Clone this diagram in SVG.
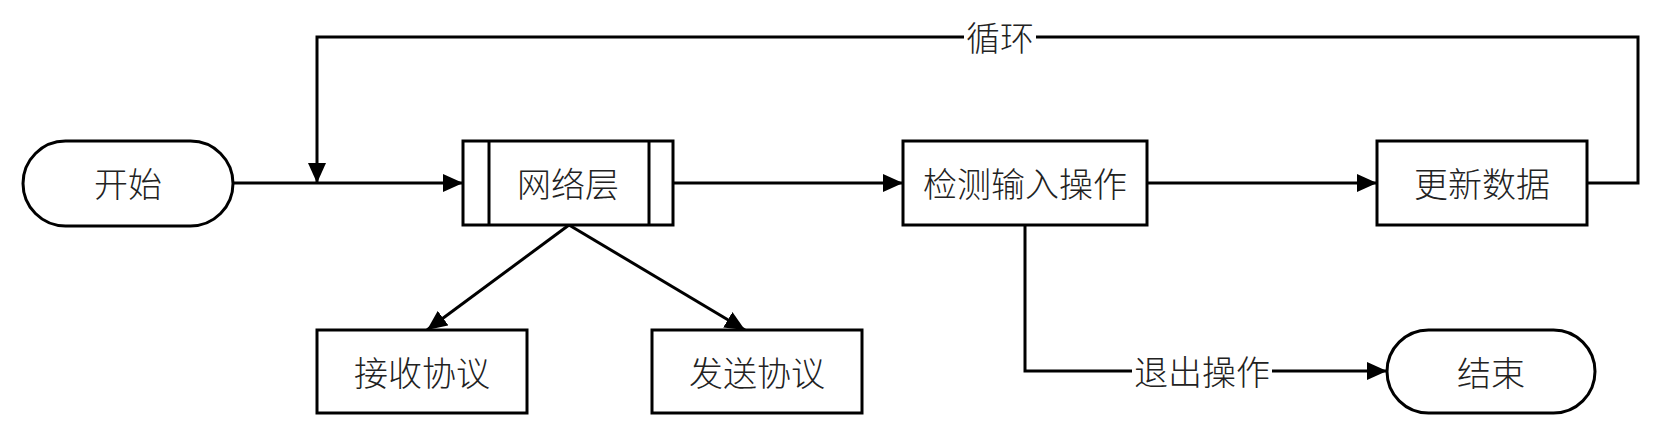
<svg xmlns="http://www.w3.org/2000/svg" width="1662" height="426" viewBox="0 0 1662 426">
<style>
.shape{fill:#fff;stroke:#000;stroke-width:3}
.line{fill:none;stroke:#000;stroke-width:3}
.t{font-family:"Noto Sans CJK SC","Noto Sans",sans-serif;font-size:34px;font-weight:300;fill:#222;text-anchor:middle;dominant-baseline:central}
.bg{fill:#fff;stroke:none}
</style>
<defs>
<marker id="arr" markerUnits="userSpaceOnUse" markerWidth="20" markerHeight="18" refX="20" refY="9" orient="auto">
<path d="M0,0 L20,9 L0,18 z" fill="#000"/>
</marker>
</defs>
<g id="connectors">
<path class="line" d="M233,183 L463,183" marker-end="url(#arr)"/>
<path class="line" d="M673,183 L903,183" marker-end="url(#arr)"/>
<path class="line" d="M1147,183 L1377,183" marker-end="url(#arr)"/>
<path class="line" d="M1587,183 L1638,183 L1638,37 L317,37 L317,183" marker-end="url(#arr)"/>
<path class="line" d="M569,225 L427,330" marker-end="url(#arr)"/>
<path class="line" d="M569,225 L745,330" marker-end="url(#arr)"/>
<path class="line" d="M1025,225 L1025,371 L1387,371" marker-end="url(#arr)"/>
<rect class="bg" x="964" y="17" width="72" height="40"/>
<text class="t" x="1000" y="36">循环</text>
<rect class="bg" x="1132" y="351" width="140" height="40"/>
<text class="t" x="1202" y="370">退出操作</text>
</g>
<g id="start">
<rect class="shape" x="23" y="141" width="210" height="85" rx="42.5" ry="42.5"/>
<text class="t" x="128" y="182">开始</text>
</g>
<g id="network">
<rect class="shape" x="463" y="141" width="210" height="84"/>
<line class="line" x1="489" y1="141" x2="489" y2="225"/>
<line class="line" x1="649" y1="141" x2="649" y2="225"/>
<text class="t" x="568" y="182">网络层</text>
</g>
<g id="detect">
<rect class="shape" x="903" y="141" width="244" height="84"/>
<text class="t" x="1025" y="182">检测输入操作</text>
</g>
<g id="update">
<rect class="shape" x="1377" y="141" width="210" height="84"/>
<text class="t" x="1482" y="182">更新数据</text>
</g>
<g id="recv">
<rect class="shape" x="317" y="330" width="210" height="83"/>
<text class="t" x="422" y="371">接收协议</text>
</g>
<g id="send">
<rect class="shape" x="652" y="330" width="210" height="83"/>
<text class="t" x="757" y="371">发送协议</text>
</g>
<g id="end">
<rect class="shape" x="1387" y="330" width="208" height="83" rx="41.5" ry="41.5"/>
<text class="t" x="1491" y="371">结束</text>
</g>
</svg>
